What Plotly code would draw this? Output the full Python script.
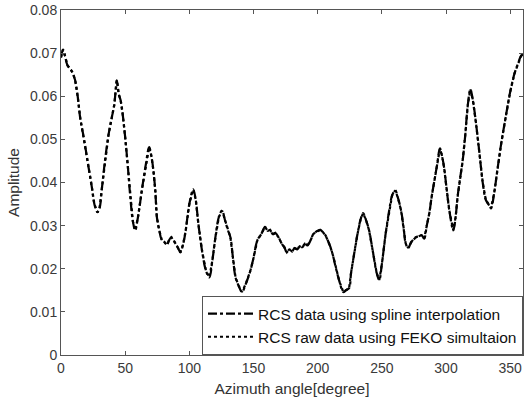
import plotly.graph_objects as go

# Azimuth angle (degree) and amplitude
azimuth = [0, 1.5, 3, 5, 7, 9, 11, 13, 15, 18, 21, 24, 26, 28.4, 30, 32, 34, 37, 39.6, 41.5,
           43.5, 45, 46.5, 48, 50, 52, 54, 56, 57.8, 60, 63, 66, 68.7, 70.5, 72, 73.5, 74.7,
           76.5, 78.6, 80.5, 82.6, 84, 86, 88, 89, 91, 93, 95, 97, 100, 103, 105, 107, 110,
           113, 115.6, 118, 120, 123, 125.5, 128, 130, 132, 134, 136, 138.5, 141, 144, 147.7,
           150, 153, 156, 159, 161, 163, 165, 167, 169.5, 172, 174, 176, 178, 180, 182, 184,
           186, 188, 190, 192, 194.5, 196.5, 198.4, 200, 202, 204, 206, 208, 210, 212, 214,
           217, 220, 222, 224.5, 226, 228, 231, 233.5, 235.4, 238, 240, 243, 246, 248, 250,
           253, 256, 258, 260.4, 262.5, 265, 267, 268.5, 270.5, 273, 276.5, 279, 281, 283,
           285, 287, 289, 291, 293, 295.3, 297, 298.5, 300.5, 302.6, 305.7, 307.5, 309, 311,
           313, 315, 317, 319, 321, 323.4, 326, 328.7, 331, 333, 335, 337.5, 340, 343, 347,
           350, 353.4, 356, 358.6, 360]
amplitude = [0.0690, 0.0708, 0.0695, 0.0672, 0.0664, 0.0655, 0.0637, 0.0600, 0.0549, 0.0500,
             0.0444, 0.0390, 0.0350, 0.0331, 0.0340, 0.0390, 0.0444, 0.0510, 0.0551, 0.0580,
             0.0637, 0.0605, 0.0590, 0.0560, 0.0505, 0.0440, 0.0366, 0.0310, 0.0289, 0.0320,
             0.0382, 0.0440, 0.0482, 0.0460, 0.0428, 0.0380, 0.0320, 0.0290, 0.0266, 0.0262,
             0.0255, 0.0265, 0.0273, 0.0265, 0.0259, 0.0250, 0.0238, 0.0255, 0.0285, 0.0350,
             0.0384, 0.0360, 0.0305, 0.0240, 0.0195, 0.0180, 0.0220, 0.0266, 0.0320, 0.0335,
             0.0310, 0.0290, 0.0273, 0.0225, 0.0180, 0.0160, 0.0146, 0.0165, 0.0197, 0.0225,
             0.0266, 0.0280, 0.0297, 0.0288, 0.0290, 0.0280, 0.0283, 0.0273, 0.0258, 0.0250,
             0.0238, 0.0245, 0.0240, 0.0248, 0.0245, 0.0252, 0.0250, 0.0258, 0.0254, 0.0266,
             0.0280, 0.0285, 0.0288, 0.0290, 0.0285, 0.0278, 0.0265, 0.0250, 0.0230, 0.0204,
             0.0170, 0.0146, 0.0150, 0.0155, 0.0190, 0.0227, 0.0280, 0.0315, 0.0329, 0.0310,
             0.0290, 0.0240, 0.0190, 0.0174, 0.0210, 0.0282, 0.0340, 0.0370, 0.0382, 0.0365,
             0.0335, 0.0295, 0.0260, 0.0248, 0.0262, 0.0273, 0.0275, 0.0278, 0.0270, 0.0300,
             0.0329, 0.0370, 0.0405, 0.0440, 0.0479, 0.0460, 0.0435, 0.0385, 0.0335, 0.0289,
             0.0320, 0.0366, 0.0410, 0.0451, 0.0510, 0.0580, 0.0616, 0.0590, 0.0537, 0.0470,
             0.0398, 0.0360, 0.0350, 0.0340, 0.0375, 0.0428, 0.0490, 0.0560, 0.0610, 0.0653,
             0.0675, 0.0694, 0.0697]

x_ticks = [0, 50, 100, 150, 200, 250, 300, 350]
y_ticks = [0, 0.01, 0.02, 0.03, 0.04, 0.05, 0.06, 0.07, 0.08]
y_tick_labels = ["0", "0.01", "0.02", "0.03", "0.04", "0.05", "0.06", "0.07", "0.08"]

series_names = ["RCS data using spline interpolation", "RCS raw data using FEKO simultaion"]

FONT = "Liberation Sans, Arial"

fig = go.Figure()
fig.add_trace(go.Scatter(x=azimuth, y=amplitude, mode="lines", name=series_names[0],
                         line=dict(color="black", width=2.2, dash="dashdot", shape="spline")))
fig.add_trace(go.Scatter(x=azimuth, y=amplitude, mode="lines", name=series_names[1],
                         line=dict(color="black", width=2.2, dash="dot")))

axis_common = dict(showline=True, linecolor="#555", linewidth=1, mirror="ticks",
                   ticks="inside", ticklen=4, tickcolor="#555", showgrid=False, zeroline=False,
                   tickfont=dict(family=FONT, size=14, color="#3a3a3a"))

fig.update_xaxes(range=[0, 360], tickvals=x_ticks,
                 title=dict(text="Azimuth angle[degree]", standoff=8,
                            font=dict(family=FONT, size=15.5, color="#333")),
                 **axis_common)
fig.update_yaxes(range=[0, 0.08], tickvals=y_ticks, ticktext=y_tick_labels,
                 title=dict(text="Amplitude", standoff=6,
                            font=dict(family=FONT, size=15.5, color="#333")),
                 **axis_common)

fig.update_layout(
    width=526, height=404,
    margin=dict(l=61, r=3, t=10, b=49),
    plot_bgcolor="white", paper_bgcolor="white",
    legend=dict(x=1, y=0, xanchor="right", yanchor="bottom",
                bgcolor="white", bordercolor="#555", borderwidth=1,
                font=dict(family=FONT, size=15.5, color="#111"),
                tracegroupgap=0, itemwidth=45),
    showlegend=True,
)

fig.write_html("out.html")
